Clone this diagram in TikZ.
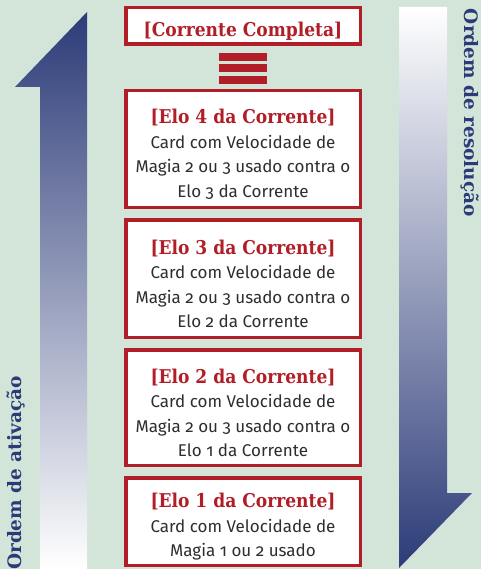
\documentclass[tikz,border=0pt]{standalone}
\usepackage{fontspec}
\setsansfont{Fira Sans}[Numbers=OldStyle]
\newfontfamily\titlefont{DejaVu Serif Condensed}
\newfontfamily\ordemfont{DejaVu Serif}
\definecolor{chainred}{HTML}{B21E27}
\definecolor{arrowblue}{HTML}{2C3B78}
\definecolor{bggreen}{HTML}{D3E5D9}
\definecolor{bodygray}{HTML}{2E2E2E}
\tikzset{
	elobox/.style = {draw=chainred, line width=3.5pt, fill=white, minimum width=234.5pt,
		inner sep=0pt, align=center, text=bodygray, font=\sffamily\fontsize{17}{24.5}\selectfont},
	ordem/.style = {text=arrowblue, font=\ordemfont\bfseries\fontsize{18.5}{18.5}\selectfont}
}
\newcommand{\elotitle}[1]{{\rule{0pt}{25pt}\titlefont\bfseries\fontsize{19}{24.5}\selectfont\color{chainred}[#1]}}
\begin{document}
\begin{tikzpicture}[x=1pt, y=-1pt]
		\useasboundingbox (0,0) rectangle (481,569);
		\fill [bggreen](0,0) rectangle (481,569);

		% arrows
		\shade [top color=arrowblue, bottom color=white](40,569) -- (40,87) -- (15,87) -- (87,12) -- (87,569) -- cycle;
		\shade [top color=white, bottom color=arrowblue](399,7) -- (447,7) -- (447,493) -- (472,493) -- (399,568) -- cycle;
		\node [ordem, rotate=90]  (ativ) at (16,473)  {Ordem de ativação};
		\node [ordem, rotate=-90] (resol)at (470,113) {Ordem de resolução};

		\node [elobox, minimum height=36.5pt] (full) at (243,26) {\elotitle{Corrente Completa}};
		\foreach \y in {53,64.5,76}
			\fill [chainred](219,\y) rectangle (267,\y+8);

		\node [elobox, minimum height=116.5pt] (elo4) at (243,149)
			{\elotitle{Elo 4 da Corrente}\\Card com Velocidade de\\Magia 2 ou 3 usado contra o\\Elo 3 da Corrente};
		\node [elobox, minimum height=117.5pt] (elo3) at (243,278.5)
			{\elotitle{Elo 3 da Corrente}\\Card com Velocidade de\\Magia 2 ou 3 usado contra o\\Elo 2 da Corrente};
		\node [elobox, minimum height=115.5pt] (elo2) at (243,407.5)
			{\elotitle{Elo 2 da Corrente}\\Card com Velocidade de\\Magia 2 ou 3 usado contra o\\Elo 1 da Corrente};
		\node [elobox, minimum height=87.5pt]  (elo1) at (243,521.5)
			{\elotitle{Elo 1 da Corrente}\\Card com Velocidade de\\Magia 1 ou 2 usado};
	\end{tikzpicture}
\end{document}
